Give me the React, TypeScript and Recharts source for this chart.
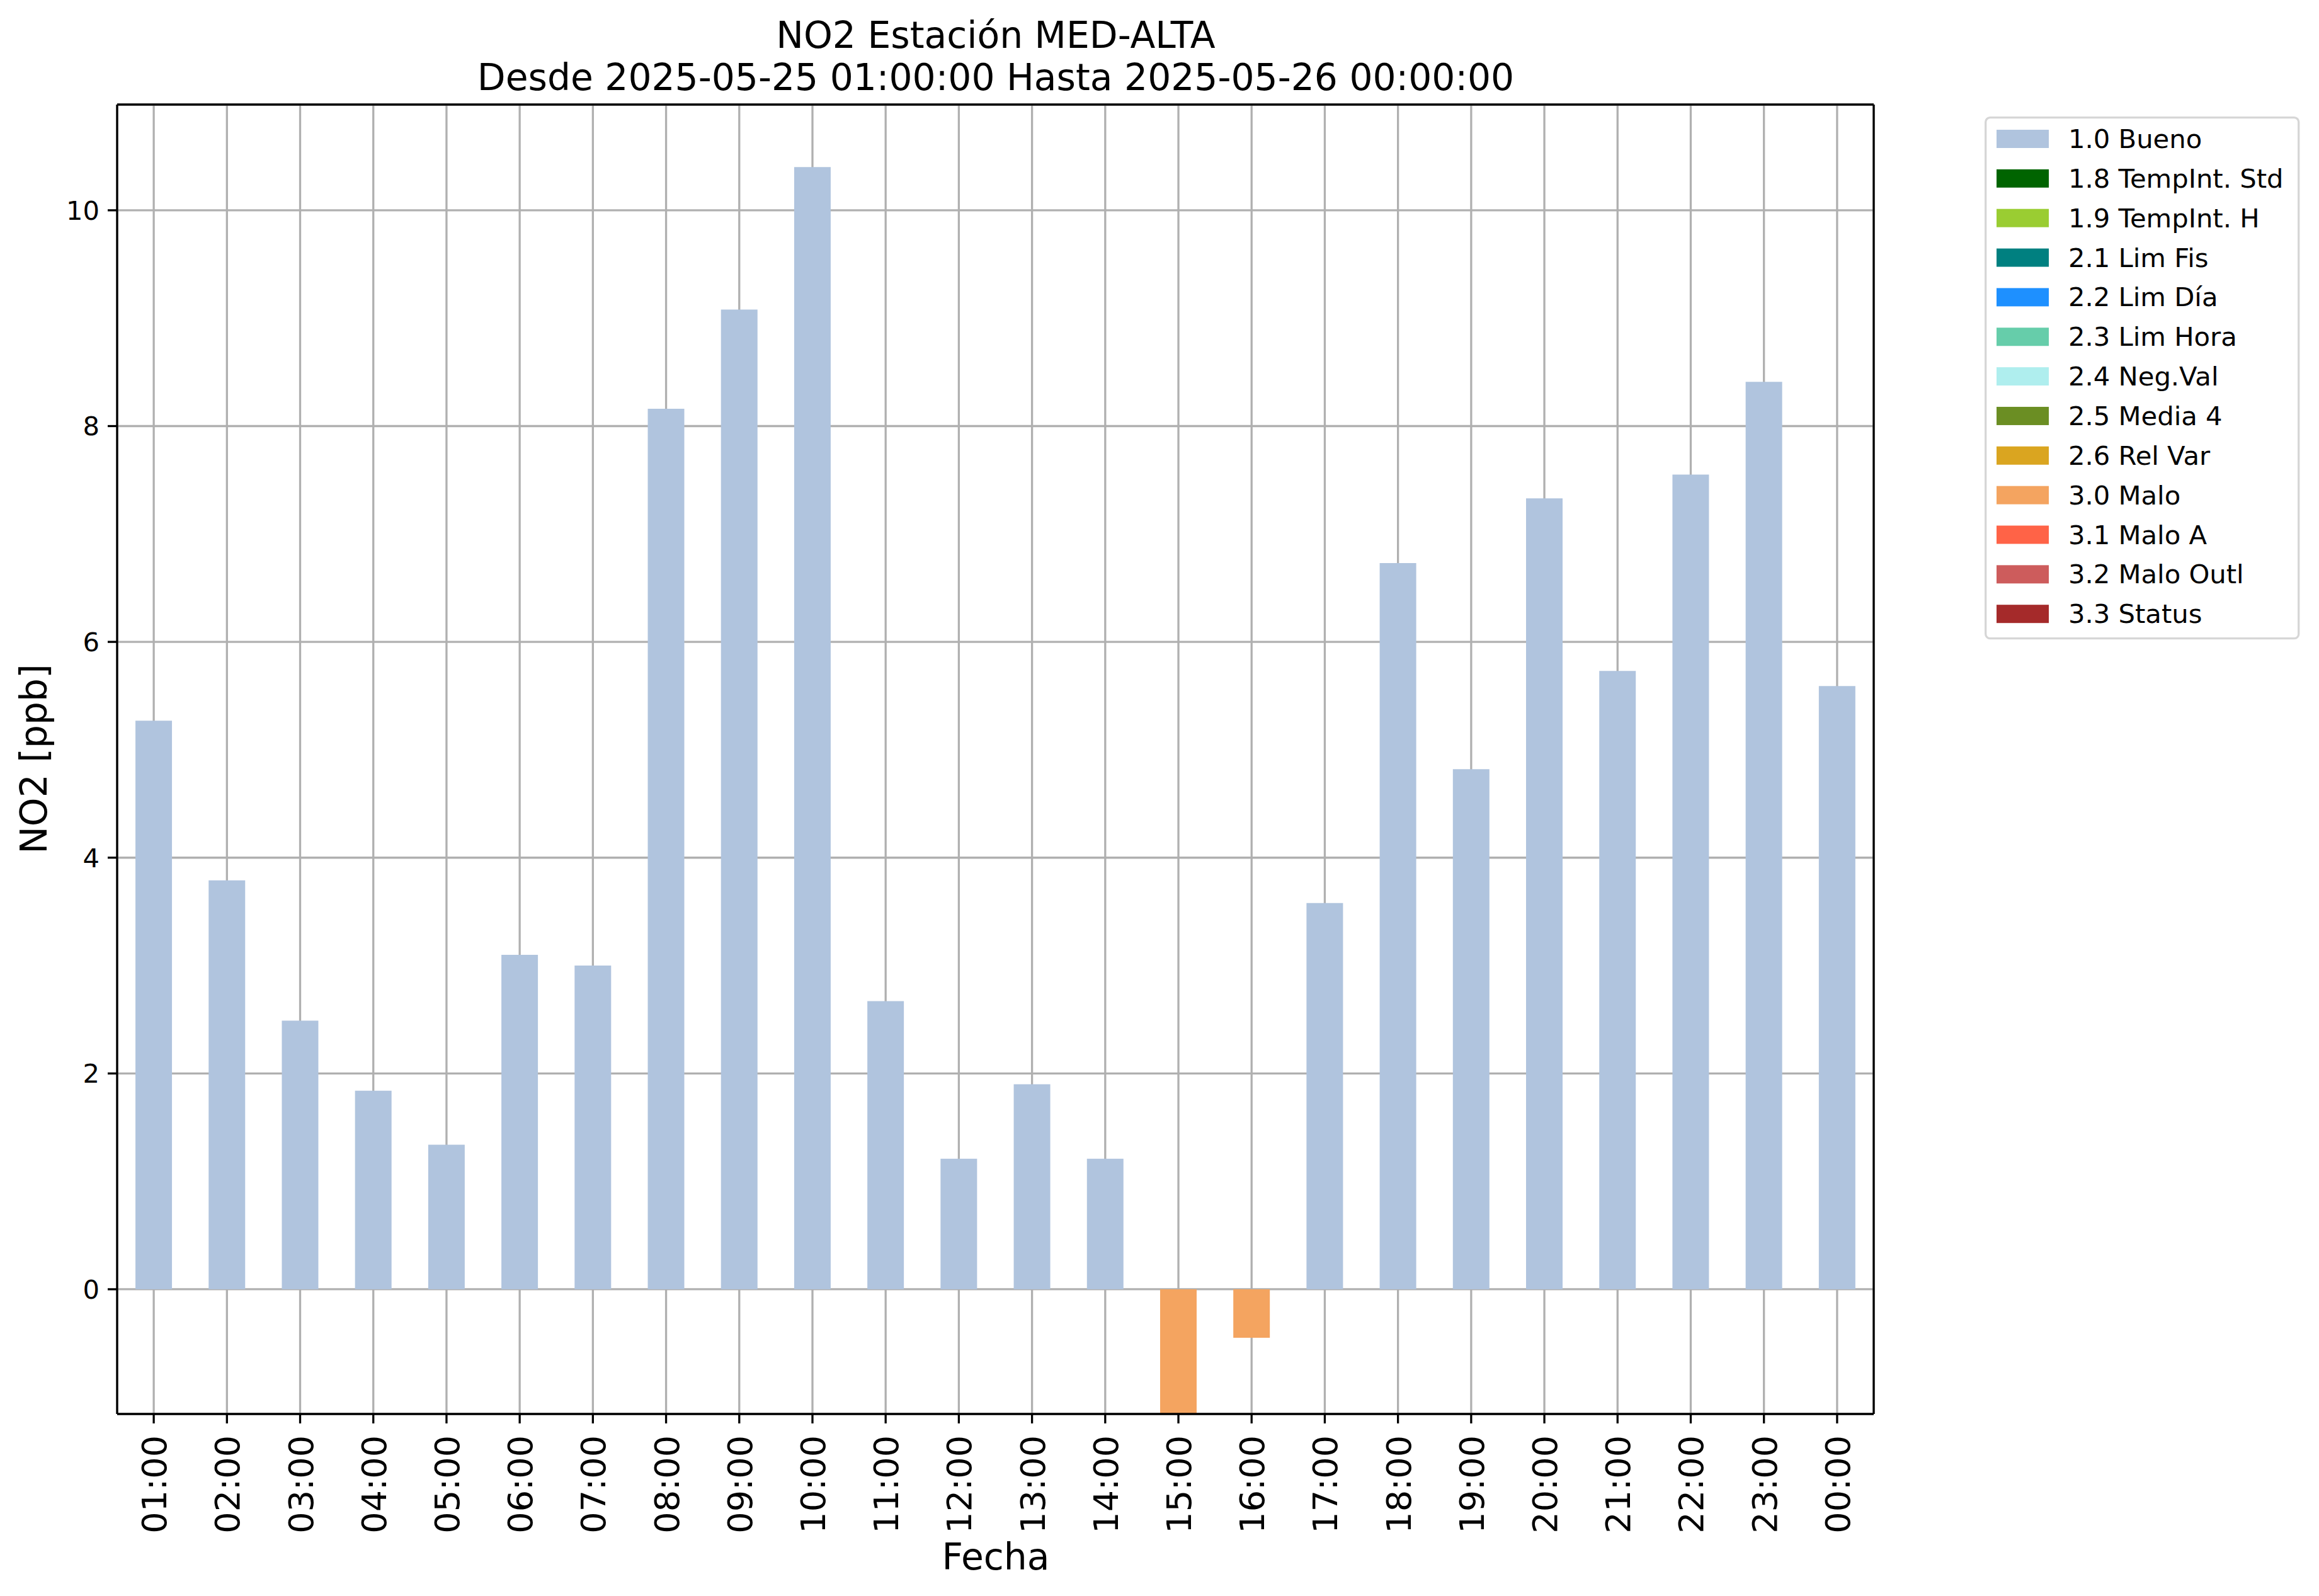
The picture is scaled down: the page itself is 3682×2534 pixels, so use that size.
import React from "react";
import { BarChart, Bar, XAxis, YAxis, CartesianGrid, Legend } from "recharts";

const HOURS = [
  "01:00", "02:00", "03:00", "04:00", "05:00", "06:00", "07:00", "08:00",
  "09:00", "10:00", "11:00", "12:00", "13:00", "14:00", "15:00", "16:00",
  "17:00", "18:00", "19:00", "20:00", "21:00", "22:00", "23:00", "00:00",
];

const NO2 = [
  5.27, 3.79, 2.49, 1.84, 1.34, 3.1, 3.0, 8.16, 9.08, 10.4, 2.67, 1.21,
  1.9, 1.21, -1.16, -0.45, 3.58, 6.73, 4.82, 7.33, 5.73, 7.55, 8.41, 5.59,
];

const FLAGS = [
  "1.0", "1.0", "1.0", "1.0", "1.0", "1.0", "1.0", "1.0", "1.0", "1.0", "1.0", "1.0",
  "1.0", "1.0", "3.0", "3.0", "1.0", "1.0", "1.0", "1.0", "1.0", "1.0", "1.0", "1.0",
];

const CATEGORIES = [
  { code: "1.0", label: "1.0 Bueno", color: "#b0c4de" },
  { code: "1.8", label: "1.8 TempInt. Std", color: "#006400" },
  { code: "1.9", label: "1.9 TempInt. H", color: "#9acd32" },
  { code: "2.1", label: "2.1 Lim Fis", color: "#008080" },
  { code: "2.2", label: "2.2 Lim Día", color: "#1e90ff" },
  { code: "2.3", label: "2.3 Lim Hora", color: "#66cdaa" },
  { code: "2.4", label: "2.4 Neg.Val", color: "#afeeee" },
  { code: "2.5", label: "2.5 Media 4", color: "#6b8e23" },
  { code: "2.6", label: "2.6 Rel Var", color: "#daa520" },
  { code: "3.0", label: "3.0 Malo", color: "#f4a460" },
  { code: "3.1", label: "3.1 Malo A", color: "#ff6347" },
  { code: "3.2", label: "3.2 Malo Outl", color: "#cd5c5c" },
  { code: "3.3", label: "3.3 Status", color: "#a52a2a" },
];

const Y_TICKS = [0, 2, 4, 6, 8, 10];

const data = HOURS.map((hour, i) => {
  const row: Record<string, string | number | null> = { hour };
  CATEGORIES.forEach((c) => {
    row[c.code] = FLAGS[i] === c.code ? NO2[i] : null;
  });
  return row;
});

const FONT = "DejaVu Sans, sans-serif";
const LW = 3.3;

const HourTick = ({ x, y, payload }: any) => (
  <text
    x={x + 20}
    y={y + 17}
    transform={`rotate(-90, ${x + 20}, ${y + 17})`}
    textAnchor="end"
    fontSize={54}
    fontFamily={FONT}
    fill="#000"
  >
    {payload.value}
  </text>
);

const LegendBox = () => (
  <svg width={502} height={832}>
    <rect x={1.7} y={1.7} width={497} height={827} rx={7} fill="#fff" stroke="#d6d6d6" strokeWidth={LW} />
    {CATEGORIES.map((c, i) => (
      <g key={c.code}>
        <rect x={19} y={21 + i * 62.85} width={83} height={29} fill={c.color} />
        <text x={133} y={50 + i * 62.85} fontSize={41.7} fontFamily={FONT} fill="#000">
          {c.label}
        </text>
      </g>
    ))}
  </svg>
);

export default function App() {
  return (
    <div style={{ position: "absolute", left: 0, top: 0, width: 3682, height: 2534, background: "#fff" }}>
      <BarChart
        width={3682}
        height={2534}
        data={data}
        margin={{ top: 165, right: 706, left: 0, bottom: 0 }}
        barCategoryGap="25%"
        stackOffset="sign"
      >
        <XAxis
          dataKey="hour"
          height={289}
          interval={0}
          tick={<HourTick />}
          tickSize={15}
          axisLine={{ stroke: "#000", strokeWidth: LW }}
          tickLine={{ stroke: "#000", strokeWidth: LW }}
        />
        <XAxis
          xAxisId="top"
          dataKey="hour"
          orientation="top"
          height={1}
          tick={false}
          tickLine={false}
          axisLine={{ stroke: "#000", strokeWidth: LW }}
        />
        <YAxis
          width={186}
          domain={[-1.156, 10.98]}
          ticks={Y_TICKS}
          allowDataOverflow
          tickSize={15}
          tickMargin={13}
          tick={{ fontSize: 41.7, fontFamily: FONT, fill: "#000" }}
          axisLine={{ stroke: "#000", strokeWidth: LW }}
          tickLine={{ stroke: "#000", strokeWidth: LW }}
        />
        <YAxis
          yAxisId="right"
          orientation="right"
          width={1}
          domain={[0, 1]}
          tick={false}
          tickLine={false}
          axisLine={{ stroke: "#000", strokeWidth: LW }}
        />
        {CATEGORIES.map((c) => (
          <Bar key={c.code} dataKey={c.code} name={c.label} stackId="q" fill={c.color} isAnimationActive={false} />
        ))}
        <CartesianGrid stroke="#b0b0b0" strokeWidth={LW} />
        <Legend
          layout="vertical"
          align="center"
          verticalAlign="middle"
          wrapperStyle={{ left: 3151, top: 185, width: 502, height: 832 }}
          content={() => <LegendBox />}
        />
      </BarChart>
      <svg
        width={3682}
        height={2534}
        style={{ position: "absolute", left: 0, top: 0, pointerEvents: "none" }}
      >
        <text x={1581} y={76} textAnchor="middle" fontSize={58.3} fontFamily={FONT} fill="#000">
          NO2 Estación MED-ALTA
        </text>
        <text x={1581} y={143} textAnchor="middle" fontSize={58.3} fontFamily={FONT} fill="#000">
          Desde 2025-05-25 01:00:00 Hasta 2025-05-26 00:00:00
        </text>
        <text
          x={74}
          y={1205}
          transform="rotate(-90, 74, 1205)"
          textAnchor="middle"
          fontSize={58.3}
          fontFamily={FONT}
          fill="#000"
        >
          NO2 [ppb]
        </text>
        <text x={1581} y={2492} textAnchor="middle" fontSize={58.3} fontFamily={FONT} fill="#000">
          Fecha
        </text>
      </svg>
    </div>
  );
}
